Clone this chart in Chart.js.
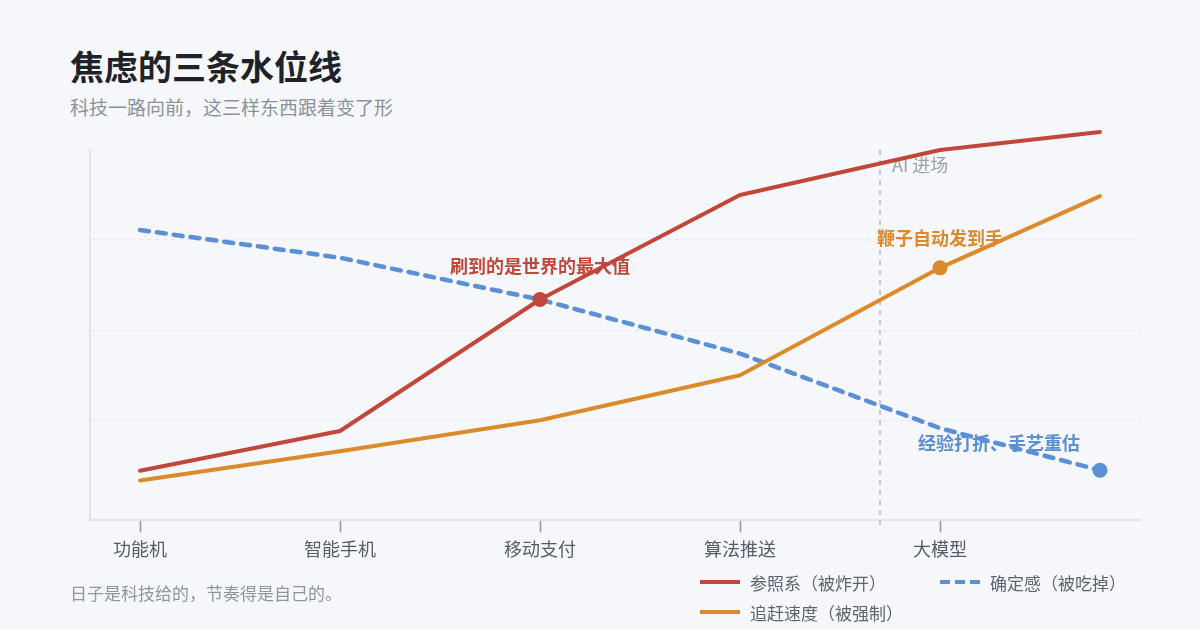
<!DOCTYPE html>
<html lang="zh-CN">
<head>
<meta charset="utf-8">
<title>焦虑的三条水位线</title>
<script src="https://cdn.jsdelivr.net/npm/chart.js@4.4.1/dist/chart.umd.min.js"></script>
<style>
  html, body { margin: 0; padding: 0; }
  body {
    width: 1200px; height: 630px; background: #f5f7fa;
    position: relative; overflow: hidden;
    font-family: "Noto Sans CJK SC", "Noto Sans", sans-serif;
  }
  #chart { position: absolute; left: 0; top: 0; }
  .title { position: absolute; left: 70px; top: 49px; font-size: 34px; font-weight: 700; color: #1f2329; line-height: 1; }
  .subtitle { position: absolute; left: 70px; top: 97px; font-size: 19px; color: #8b929d; line-height: 1; }
  .footnote { position: absolute; left: 70px; top: 584px; font-size: 17px; color: #8f95a0; line-height: 1; }
  #legend {
    position: absolute; left: 700px; top: 567px;
    display: grid; grid-auto-flow: column;
    grid-template-rows: 30px 30px; grid-template-columns: 240px auto;
  }
  .item { display: flex; align-items: center; font-size: 17px; color: #5d6470; white-space: nowrap; }
  .swatch { width: 40px; height: 4px; margin-right: 10px; }
</style>
</head>
<body>
<div class="title">焦虑的三条水位线</div>
<div class="subtitle">科技一路向前，这三样东西跟着变了形</div>
<canvas id="chart" width="1200" height="630"></canvas>
<div class="footnote">日子是科技给的，节奏得是自己的。</div>
<div id="legend"></div>
<script>
// 数据
const categories = ['功能机', '智能手机', '移动支付', '算法推送', '大模型'];
const stages = [0, 1, 2, 3, 4, 4.8];
const seriesNames = ['参照系（被炸开）', '追赶速度（被强制）', '确定感（被吃掉）'];
const referenceFrame = [11, 22, 58.5, 87.5, 100, 105];
const chaseSpeed = [8.3, 16.4, 25, 37.5, 67.3, 87.2];
const certainty = [77.8, 70.1, 58.5, 43.5, 22.8, 11.1];
const gridValues = [25, 50, 75];
const aiStage = 3.7;
const aiLabel = 'AI 进场';
const noteTexts = ['刷到的是世界的最大值', '鞭子自动发到手', '经验打折、手艺重估'];
const noteIndex = [2, 4, 5];

const colors = ['#c2473b', '#db8b2c', '#5b8fd6'];
const dashes = [[], [], [9, 8]];

Chart.defaults.font.family = '"Noto Sans CJK SC", "Noto Sans", sans-serif';

const toPoints = (values) => values.map((v, i) => ({ x: stages[i], y: v }));

const datasets = [referenceFrame, chaseSpeed, certainty].map((values, s) => ({
  label: seriesNames[s],
  data: toPoints(values),
  borderColor: colors[s],
  backgroundColor: colors[s],
  borderWidth: s === 2 ? 4.5 : 4,
  borderDash: dashes[s],
  borderCapStyle: 'round',
  borderJoinStyle: 'round',
  tension: 0,
  clip: false,
  pointRadius: (ctx) => ctx.dataIndex === noteIndex[s] ? 7.5 : 0,
  pointHoverRadius: (ctx) => ctx.dataIndex === noteIndex[s] ? 7.5 : 0,
  pointBorderWidth: 0,
  pointBackgroundColor: colors[s]
}));

// 注释 + AI 分界线
const notePlacement = [
  { align: 'center', dx: 0, dy: -33 },
  { align: 'center', dx: 0, dy: -30 },
  { align: 'right', dx: -20, dy: -27 }
];

const overlay = {
  id: 'overlay',
  beforeDatasetsDraw(chart) {
    const { ctx, chartArea, scales: { x } } = chart;
    const px = x.getPixelForValue(aiStage);
    ctx.save();
    ctx.strokeStyle = '#b4b9c3';
    ctx.lineWidth = 1.5;
    ctx.setLineDash([5, 5]);
    ctx.beginPath();
    ctx.moveTo(px, chartArea.top);
    ctx.lineTo(px, chartArea.bottom + 10);
    ctx.stroke();
    ctx.setLineDash([]);
    ctx.fillStyle = '#9ba1ab';
    ctx.font = '18px "Noto Sans CJK SC"';
    ctx.textBaseline = 'middle';
    ctx.textAlign = 'left';
    ctx.fillText(aiLabel, px + 12, chartArea.top + 15);
    ctx.restore();
  },
  afterDatasetsDraw(chart) {
    const { ctx } = chart;
    ctx.save();
    ctx.font = 'bold 18px "Noto Sans CJK SC"';
    ctx.textBaseline = 'middle';
    noteTexts.forEach((text, s) => {
      const pt = chart.getDatasetMeta(s).data[noteIndex[s]];
      const p = notePlacement[s];
      ctx.fillStyle = colors[s];
      ctx.textAlign = p.align;
      ctx.fillText(text, pt.x + p.dx, pt.y + p.dy);
    });
    ctx.restore();
  }
};

new Chart(document.getElementById('chart'), {
  type: 'line',
  data: { datasets },
  options: {
    responsive: false,
    animation: false,
    layout: { padding: { left: 90, right: 60, top: 150, bottom: 64 } },
    plugins: {
      legend: { display: false },
      tooltip: { enabled: false }
    },
    scales: {
      x: {
        type: 'linear',
        min: -0.25,
        max: 5,
        afterBuildTicks: (scale) => { scale.ticks = categories.map((_, i) => ({ value: i })); },
        ticks: {
          autoSkip: false,
          maxRotation: 0,
          padding: 6,
          color: '#555c68',
          font: { size: 18 },
          callback: (value) => categories[value]
        },
        grid: { drawOnChartArea: false, drawTicks: true, tickLength: 12, tickColor: '#8d96a5', tickWidth: 1.5 },
        border: { display: true, color: '#e2e5ea', width: 2 }
      },
      y: {
        min: -2.8,
        max: 100,
        afterBuildTicks: (scale) => { scale.ticks = gridValues.map((v) => ({ value: v })); },
        ticks: { display: false },
        grid: { color: '#e4e7ec', lineWidth: 1.3, drawTicks: false },
        border: { display: true, color: '#e2e5ea', width: 2, dash: [4, 4] }
      }
    }
  },
  plugins: [overlay]
});

// 图例
const legend = document.getElementById('legend');
seriesNames.forEach((name, s) => {
  const item = document.createElement('div');
  item.className = 'item';
  const sw = document.createElement('span');
  sw.className = 'swatch';
  sw.style.background = dashes[s].length
    ? `repeating-linear-gradient(90deg, ${colors[s]} 0 10px, transparent 10px 15px)`
    : colors[s];
  item.appendChild(sw);
  item.appendChild(document.createTextNode(name));
  legend.appendChild(item);
});
</script>
</body>
</html>
